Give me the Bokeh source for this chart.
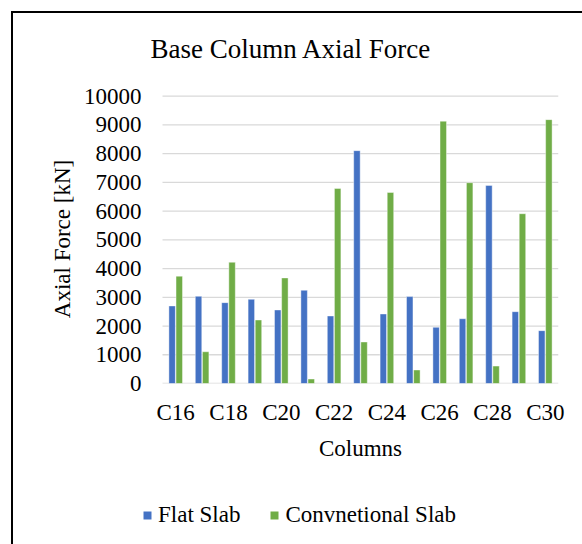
import numpy as np
from bokeh.plotting import figure
from bokeh.layouts import column
from bokeh.models import (ColumnDataSource, Range1d, FixedTicker, Legend, LegendItem, Label)
from bokeh.transform import dodge
from bokeh.embed import file_html
from bokeh.resources import INLINE

columns = ["C16", "C17", "C18", "C19", "C20", "C21", "C22", "C23",
           "C24", "C25", "C26", "C27", "C28", "C29", "C30"]
flat_slab = [2700, 3035, 2815, 2930, 2560, 3245, 2350, 8105,
             2420, 3025, 1955, 2255, 6895, 2500, 1840]
conventional_slab = [3735, 1105, 4220, 2210, 3675, 155, 6790, 1445,
                     6650, 470, 9130, 6990, 605, 5910, 9185]
y_ticks = [0, 1000, 2000, 3000, 4000, 5000, 6000, 7000, 8000, 9000, 10000]
title_text = "Base Column Axial Force"
x_title = "Columns"
y_title = "Axial Force [kN]"
series_names = ["Flat Slab", "Convnetional Slab"]

FONT = "Liberation Serif"
BLUE = "#4472C4"
GREEN = "#70AD47"
GRID = "#d9d9d9"

n = len(columns)
idx = list(range(n))
src = ColumnDataSource(dict(idx=idx, cols=columns, flat=flat_slab, conv=conventional_slab))
grid_src = ColumnDataSource(dict(y=y_ticks, x0=[-0.5] * len(y_ticks),
                                 x1=[n - 0.5] * len(y_ticks)))


def strip(height):
    f = figure(width=569, height=height, output_backend="svg", toolbar_location=None,
               x_range=Range1d(0, 1), y_range=Range1d(0, 1),
               min_border_left=0, min_border_right=0, min_border_top=0, min_border_bottom=0,
               x_axis_type=None, y_axis_type=None)
    f.outline_line_color = None
    f.xgrid.grid_line_color = None
    f.ygrid.grid_line_color = None
    f.border_fill_color = "white"
    return f


# title strip
tf = strip(70)
tf.add_layout(Label(x=8 / 416, y=0.5, text=title_text, text_font=FONT, text_font_size="27px",
                    text_color="black", text_align="left", text_baseline="middle"))

# main chart; the frame reaches 20px left of the category area so that the
# aligned strips above/below can place text there
left_pad = 20 / 26.4
p = figure(width=569, height=345, output_backend="svg", toolbar_location=None,
           x_range=Range1d(-0.5 - left_pad, n - 0.5), y_range=Range1d(0, 10060),
           min_border_left=129, min_border_right=24, min_border_top=11, min_border_bottom=45)
p.outline_line_color = None
p.background_fill_color = "white"
p.border_fill_color = "white"

p.segment(x0="x0", x1="x1", y0="y", y1="y", source=grid_src, line_color=GRID, line_width=1.3)

r1 = p.vbar(x=dodge("idx", -0.135), top="flat", width=0.245, source=src,
            fill_color=BLUE, line_color="white", line_width=0.6, line_alpha=0.7)
r2 = p.vbar(x=dodge("idx", 0.135), top="conv", width=0.245, source=src,
            fill_color=GREEN, line_color="white", line_width=0.6, line_alpha=0.7)

xa = p.xaxis[0]
xa.ticker = FixedTicker(ticks=idx[::2])
xa.major_label_overrides = {i: columns[i] for i in idx[::2]}
xa.axis_line_color = None
xa.major_tick_line_color = None
xa.minor_tick_line_color = None
xa.major_tick_out = 0
xa.major_tick_in = 0
xa.minor_tick_out = 0
xa.major_label_text_font = FONT
xa.major_label_text_font_size = "23px"
xa.major_label_text_color = "black"
xa.major_label_standoff = 16

ya = p.yaxis[0]
ya.ticker = FixedTicker(ticks=y_ticks)
ya.axis_label = y_title
ya.axis_line_color = None
ya.major_tick_line_color = None
ya.minor_tick_line_color = None
ya.major_tick_out = 0
ya.major_tick_in = 0
ya.minor_tick_out = 0
ya.major_label_text_font = FONT
ya.major_label_text_font_size = "23px"
ya.major_label_text_color = "black"
ya.major_label_standoff = 1
ya.axis_label_text_font = FONT
ya.axis_label_text_font_size = "23px"
ya.axis_label_text_font_style = "normal"
ya.axis_label_text_color = "black"
ya.axis_label_standoff = 6

p.xgrid.grid_line_color = None
p.ygrid.grid_line_color = None

# strip below the chart: x-axis title and legend
lf = strip(116)
lf.add_layout(Label(x=218 / 416, y=(116 - 20) / 116, text=x_title, text_font=FONT,
                    text_font_size="23px", text_color="black", text_align="center",
                    text_baseline="middle"))
proxy = ColumnDataSource(dict(x=[0.5], top=[0]))
l1 = lf.vbar(x="x", top="top", width=0.01, source=proxy, fill_color=BLUE, line_color=None)
l2 = lf.vbar(x="x", top="top", width=0.01, source=proxy, fill_color=GREEN, line_color=None)

legend = Legend(items=[LegendItem(label=series_names[0], renderers=[l1]),
                       LegendItem(label=series_names[1], renderers=[l2])],
                orientation="horizontal", location=(0, 16),
                glyph_width=10, glyph_height=10, label_standoff=6, spacing=29,
                padding=0, margin=0, border_line_color=None, background_fill_alpha=0,
                label_text_font=FONT, label_text_font_size="23px", label_text_color="black")
lf.add_layout(legend, "center")

layout = column(tf, p, lf, spacing=0,
                styles={"border-left": "2px solid black", "border-top": "2px solid black",
                        "margin-left": "11px", "margin-top": "11px"})

open("out.html", "w").write(file_html(layout, INLINE))
